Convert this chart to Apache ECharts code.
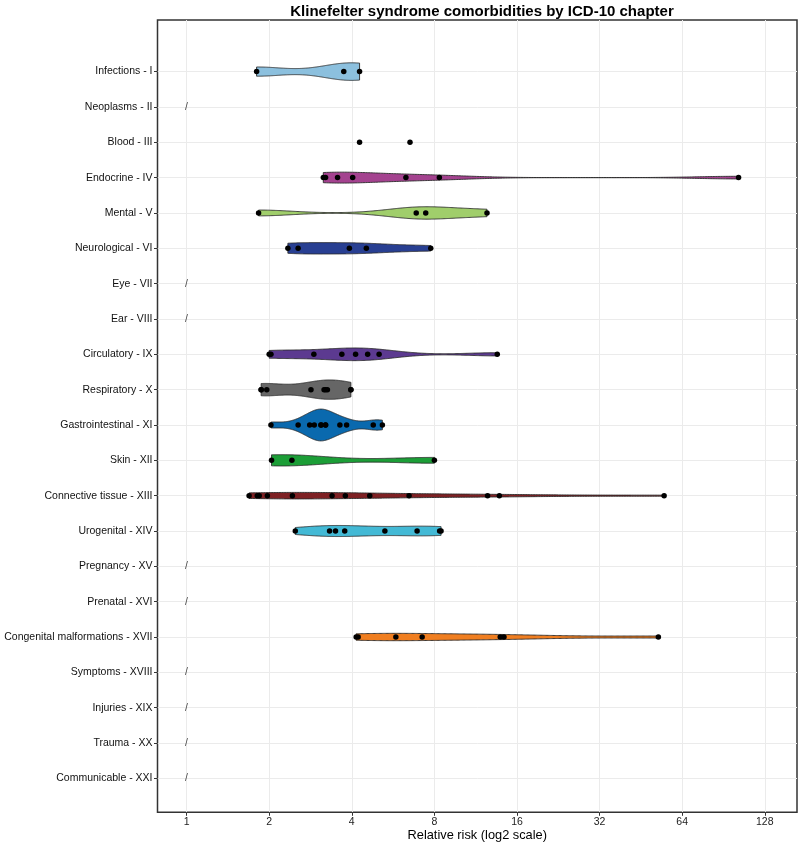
<!DOCTYPE html>
<html>
<head>
<meta charset="utf-8">
<script src="https://cdn.jsdelivr.net/npm/echarts@6/dist/echarts.min.js"></script>
<style>
html,body{margin:0;padding:0;background:#fff;}
#chart{width:800px;height:845px;}
</style>
</head>
<body>
<div id="chart"></div>
<script>
// ---- Data (relative risk values; overlapping dots estimated) ----
const categories = [
  "Infections - I", "Neoplasms - II", "Blood - III", "Endocrine - IV", "Mental - V",
  "Neurological - VI", "Eye - VII", "Ear - VIII", "Circulatory - IX", "Respiratory - X",
  "Gastrointestinal - XI", "Skin - XII", "Connective tissue - XIII", "Urogenital - XIV",
  "Pregnancy - XV", "Prenatal - XVI", "Congenital malformations - XVII", "Symptoms - XVIII",
  "Injuries - XIX", "Trauma - XX", "Communicable - XXI"
];
const infections   = [1.80, 3.74, 4.27];
const neoplasms    = [];
const blood        = [4.27, 6.52];
const endocrine    = [3.15, 3.21, 3.55, 4.03, 6.30, 8.34, 102.7];
const mental       = [1.83, 6.87, 7.44, 12.44];
const neurological = [2.34, 2.55, 3.92, 4.52, 7.76];
const eye          = [];
const ear          = [];
const circulatory  = [2.00, 2.03, 2.91, 3.68, 4.13, 4.57, 5.03, 13.56];
const respiratory  = [1.87, 1.87, 1.96, 2.84, 3.17, 3.21, 3.26, 3.97, 3.97];
const gastro       = [2.03, 2.55, 2.81, 2.92, 3.09, 3.09, 3.21, 3.21, 3.62, 3.83, 4.79, 5.17];
const skin         = [2.04, 2.42, 8.00];
const connective   = [1.69, 1.81, 1.84, 1.97, 2.43, 3.39, 3.79, 4.65, 6.47, 12.5, 13.8, 55.0];
const urogenital   = [2.49, 3.32, 3.49, 3.77, 5.28, 6.92, 8.36, 8.46];
const pregnancy    = [];
const prenatal     = [];
const congenital   = [4.15, 4.22, 5.79, 7.22, 13.9, 14.35, 52.4];
const symptoms     = [];
const injuries     = [];
const trauma       = [];
const communicable = [];
const xTickValues  = [1, 2, 4, 8, 16, 32, 64, 128];

const groups = [infections, neoplasms, blood, endocrine, mental, neurological, eye, ear,
  circulatory, respiratory, gastro, skin, connective, urogenital, pregnancy, prenatal,
  congenital, symptoms, injuries, trauma, communicable];

// ---- Styles ----
const fillColors = ["#8CC0DE", "#999999", "#999999", "#A4428F", "#A0CE6B", "#283F92", "#999", "#999",
  "#5C3A90", "#666666", "#0A69AE", "#1C9E37", "#7E2023", "#43B9D5", "#999", "#999",
  "#F07E20", "#999", "#999", "#999", "#999"];

// ---- Violin densities (Gaussian KDE on log2 scale, bw.nrd0, trimmed, area-scaled) ----
const log2 = v => Math.log(v) / Math.LN2;
function quantile(sorted, p) {
  const h = (sorted.length - 1) * p, lo = Math.floor(h), hi = Math.ceil(h);
  return sorted[lo] + (h - lo) * (sorted[hi] - sorted[lo]);
}
function bwNrd0(x) {
  const n = x.length, s = x.slice().sort((a, b) => a - b);
  const mean = x.reduce((a, b) => a + b, 0) / n;
  const sd = Math.sqrt(x.reduce((a, b) => a + (b - mean) * (b - mean), 0) / (n - 1));
  const iqr = quantile(s, 0.75) - quantile(s, 0.25);
  let lo = Math.min(sd, iqr / 1.34);
  if (!(lo > 0)) lo = sd || Math.abs(s[0]) || 1;
  return 0.9 * lo * Math.pow(n, -0.2);
}
const NGRID = 256;
const densities = groups.map(g => {
  if (g.length < 3) return null;
  const x = g.map(log2);
  const bw = bwNrd0(x);
  const mn = Math.min(...x), mx = Math.max(...x);
  const out = [];
  for (let i = 0; i < NGRID; i++) {
    const t = mn + (mx - mn) * i / (NGRID - 1);
    let d = 0;
    for (const xi of x) { const z = (t - xi) / bw; d += Math.exp(-0.5 * z * z); }
    out.push([t, d / (x.length * bw * Math.sqrt(2 * Math.PI))]);
  }
  return out;
});
let maxD = 0;
densities.forEach(d => { if (d) d.forEach(p => { if (p[1] > maxD) maxD = p[1]; }); });

const violinData = [];
densities.forEach((d, i) => { if (d) violinData.push([d[0][0], i]); });

const pointData = [];
groups.forEach((g, i) => g.forEach(v => pointData.push([log2(v), i])));

const emptyData = [];
groups.forEach((g, i) => { if (g.length === 0) emptyData.push([0, i]); });

const chart = echarts.init(document.getElementById('chart'), null, {renderer: 'canvas'});
const FONT = 'Liberation Sans, Arial, sans-serif';
const catIdx = categories.map((c, i) => i);

chart.setOption({
  animation: false,
  backgroundColor: '#ffffff',
  title: {
    text: 'Klinefelter syndrome comorbidities by ICD-10 chapter',
    left: 477, top: -1, textAlign: 'center',
    textStyle: {fontFamily: FONT, fontSize: 15, fontWeight: 'bold', color: '#000'}
  },
  grid: {
    left: 157.5, right: 3, top: 20, bottom: 32.7,
    outerBoundsMode: 'none', containLabel: false,
    show: true, borderColor: '#333333', borderWidth: 1.5, backgroundColor: 'transparent'
  },
  xAxis: {
    type: 'value', min: -0.352, max: 7.39, position: 'bottom',
    name: 'Relative risk (log2 scale)', nameLocation: 'middle', nameGap: 16.5,
    nameMoveOverlap: false,
    nameTextStyle: {fontFamily: FONT, fontSize: 12.8, color: '#000'},
    axisLine: {show: false, onZero: false},
    axisTick: {show: true, length: 3.5, lineStyle: {color: '#333'}, customValues: xTickValues.map(log2)},
    axisLabel: {fontFamily: FONT, fontSize: 10.5, color: '#222', margin: 4,
      customValues: xTickValues.map(log2),
      formatter: v => String(Math.round(Math.pow(2, v)))},
    splitLine: {show: true, lineStyle: {color: '#ebebeb', width: 1}}
  },
  yAxis: {
    type: 'value', inverse: true, min: -1.46, max: 20.96, position: 'left',
    axisLine: {show: false, onZero: false},
    axisTick: {show: true, length: 3.5, lineStyle: {color: '#333'}, customValues: catIdx},
    axisLabel: {fontFamily: FONT, fontSize: 10.5, color: '#111', margin: 5,
      customValues: catIdx,
      formatter: v => categories[Math.round(v)] || ''},
    splitLine: {show: true, lineStyle: {color: '#ebebeb', width: 1}}
  },
  series: [
    {
      type: 'custom',
      data: violinData,
      encode: {x: 0, y: 1},
      z: 2,
      renderItem: function (params, api) {
        const idx = api.value(1);
        const d = densities[idx];
        const unit = api.size([0, 1])[1];
        const top = [], bot = [];
        for (const p of d) {
          const c = api.coord([p[0], idx]);
          const hw = 0.45 * unit * p[1] / maxD;
          top.push([c[0], c[1] - hw]);
          bot.push([c[0], c[1] + hw]);
        }
        const pts = top.concat(bot.reverse());
        return {
          type: 'polygon',
          shape: {points: pts},
          style: {fill: fillColors[idx], stroke: '#2b2b2b', lineWidth: 0.9}
        };
      }
    },
    {
      type: 'scatter',
      data: pointData,
      symbolSize: 5.5,
      z: 3,
      itemStyle: {color: '#000', opacity: 1},
      silent: true
    },
    {
      type: 'scatter',
      data: emptyData,
      symbolSize: 0,
      z: 3,
      label: {show: true, position: 'inside', formatter: '/', fontFamily: FONT,
        fontSize: 10.5, color: '#222'},
      silent: true
    }
  ]
});
</script>
</body>
</html>
